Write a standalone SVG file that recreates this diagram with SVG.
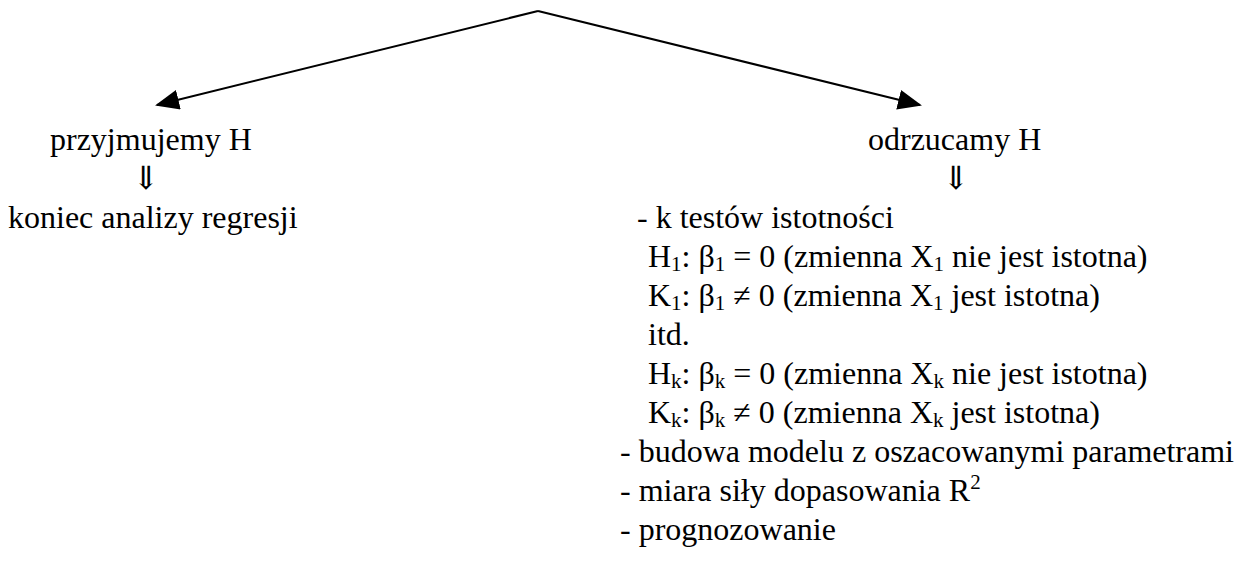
<svg xmlns="http://www.w3.org/2000/svg" width="1252" height="562" viewBox="0 0 1252 562">
<style>
text{font-family:"Liberation Serif","Times New Roman","DejaVu Serif",serif;font-size:32px;fill:#000}
.s{font-size:21px}
.c{stroke:#000;stroke-width:2;fill:none}
</style>
<defs>
<marker id="ah" markerWidth="12" markerHeight="10" refX="11" refY="5" orient="auto" markerUnits="strokeWidth">
<path d="M0,0 L12,5 L0,10 Z" fill="#000"/>
</marker>
</defs>
<rect width="1252" height="562" fill="#fff"/>
<g id="connectors">
<path class="c" d="M538,11 L157,105" marker-end="url(#ah)"/>
<path class="c" d="M538,11 L920,105" marker-end="url(#ah)"/>
</g>
<g id="left">
<text x="50" y="150">przyjmujemy H</text>
<text x="146" y="189" text-anchor="middle">⇓</text>
<text x="8" y="228">koniec analizy regresji</text>
</g>
<g id="right">
<text x="868" y="150">odrzucamy H</text>
<text x="956" y="189" text-anchor="middle">⇓</text>
<text x="637" y="228">- k testów istotności</text>
<text x="648" y="267">H<tspan class="s" dy="4">1</tspan><tspan dy="-4">: β</tspan><tspan class="s" dy="4">1</tspan><tspan dy="-4"> = 0 (zmienna X</tspan><tspan class="s" dy="4">1</tspan><tspan dy="-4"> nie jest istotna)</tspan></text>
<text x="648" y="306">K<tspan class="s" dy="4">1</tspan><tspan dy="-4">: β</tspan><tspan class="s" dy="4">1</tspan><tspan dy="-4"> ≠ 0 (zmienna X</tspan><tspan class="s" dy="4">1</tspan><tspan dy="-4"> jest istotna)</tspan></text>
<text x="648" y="345">itd.</text>
<text x="648" y="384">H<tspan class="s" dy="4">k</tspan><tspan dy="-4">: β</tspan><tspan class="s" dy="4">k</tspan><tspan dy="-4"> = 0 (zmienna X</tspan><tspan class="s" dy="4">k</tspan><tspan dy="-4"> nie jest istotna)</tspan></text>
<text x="648" y="423">K<tspan class="s" dy="4">k</tspan><tspan dy="-4">: β</tspan><tspan class="s" dy="4">k</tspan><tspan dy="-4"> ≠ 0 (zmienna X</tspan><tspan class="s" dy="4">k</tspan><tspan dy="-4"> jest istotna)</tspan></text>
<text x="620" y="462">- budowa modelu z oszacowanymi parametrami</text>
<text x="620" y="501">- miara siły dopasowania R<tspan class="s" dy="-12">2</tspan></text>
<text x="620" y="540">- prognozowanie</text>
</g>
</svg>
